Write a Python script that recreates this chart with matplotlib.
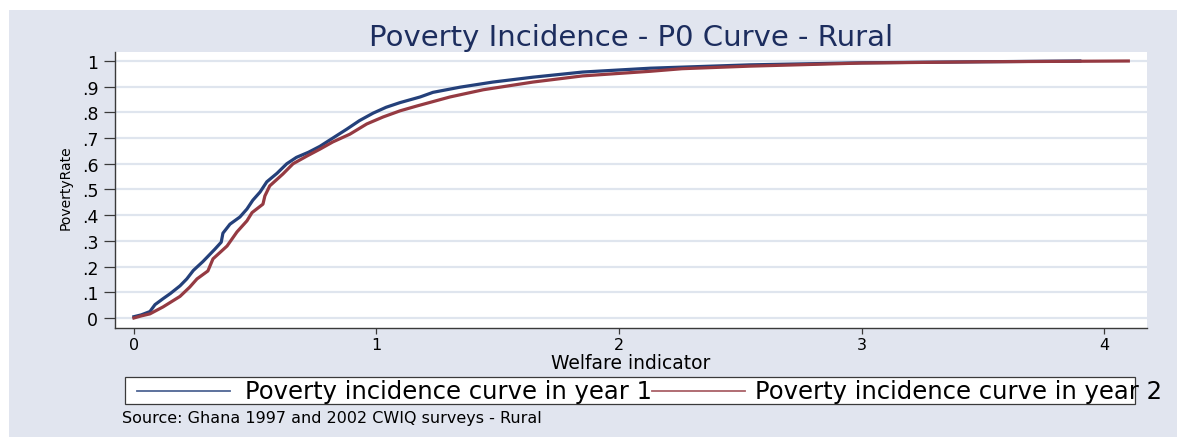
import matplotlib
matplotlib.use("Agg")
import matplotlib.pyplot as plt
from matplotlib.patches import Rectangle
from matplotlib.lines import Line2D

# P0 curve, year 1 (welfare indicator, share of population below it)
welfare_y1 = [0.00, 0.03, 0.066, 0.087, 0.12, 0.15, 0.19, 0.218, 0.245, 0.285,
              0.334, 0.36, 0.367, 0.396, 0.437, 0.466, 0.49, 0.52, 0.548, 0.59,
              0.63, 0.67, 0.72, 0.767, 0.82, 0.878, 0.93, 0.986, 1.04, 1.097,
              1.18, 1.233, 1.344, 1.48, 1.645, 1.85, 2.13, 2.54, 3.0, 3.5, 3.9]
p0_y1 = [0.005, 0.012, 0.025, 0.052, 0.075, 0.095, 0.125, 0.152, 0.185, 0.22,
         0.268, 0.295, 0.33, 0.365, 0.393, 0.424, 0.458, 0.49, 0.53, 0.563,
         0.60, 0.625, 0.645, 0.668, 0.70, 0.735, 0.768, 0.797, 0.82, 0.838,
         0.86, 0.878, 0.898, 0.918, 0.937, 0.957, 0.972, 0.985, 0.993, 0.997, 1.0]

# P0 curve, year 2
welfare_y2 = [0.00, 0.03, 0.066, 0.12, 0.19, 0.23, 0.26, 0.305, 0.326, 0.384,
              0.425, 0.466, 0.487, 0.532, 0.54, 0.56, 0.614, 0.656, 0.713, 0.767,
              0.82, 0.89, 0.96, 1.027, 1.097, 1.167, 1.303, 1.44, 1.645, 1.85,
              2.13, 2.26, 2.54, 3.0, 3.5, 4.1]
p0_y2 = [0.0, 0.008, 0.016, 0.043, 0.084, 0.12, 0.152, 0.183, 0.23, 0.28,
         0.335, 0.378, 0.41, 0.443, 0.475, 0.514, 0.56, 0.60, 0.63, 0.657,
         0.685, 0.715, 0.755, 0.782, 0.806, 0.825, 0.86, 0.888, 0.918, 0.942,
         0.96, 0.97, 0.98, 0.992, 0.997, 1.0]

y_ticks = [0, 0.1, 0.2, 0.3, 0.4, 0.5, 0.6, 0.7, 0.8, 0.9, 1.0]
y_tick_labels = ["0", ".1", ".2", ".3", ".4", ".5", ".6", ".7", ".8", ".9", "1"]
x_ticks = [0, 1, 2, 3, 4]
series_labels = ["Poverty incidence curve in year 1",
                 "Poverty incidence curve in year 2"]

navy = "#24407a"
maroon = "#953a42"
panel = "#e1e5ef"
grid_col = "#dfe5ee"

plt.rcParams["font.family"] = ["DejaVu Sans"]

W, H = 1200, 439
fig = plt.figure(figsize=(W / 100, H / 100), dpi=100, facecolor="white")

def fx(px):
    return px / W

def fy(py):
    return (H - py) / H

# shaded graph region behind everything
fig.patches.append(Rectangle((fx(9), fy(438)), fx(1177) - fx(9), fy(11) - fy(438),
                             transform=fig.transFigure, facecolor=panel,
                             edgecolor="none", zorder=-5))

ax = fig.add_axes([fx(115), fy(329), fx(1147) - fx(115), fy(53) - fy(329)])
ax.set_zorder(2)
ax.set_facecolor("white")
ax.plot(welfare_y1, p0_y1, color=navy, lw=2.3, zorder=3)
ax.plot(welfare_y2, p0_y2, color=maroon, lw=2.3, zorder=3)

ax.set_xlim(-0.078, 4.177)
ax.set_ylim(-0.039, 1.035)
ax.set_yticks(y_ticks)
ax.set_yticklabels(y_tick_labels)
ax.set_xticks(x_ticks)
ax.yaxis.grid(True, color=grid_col, lw=1.6)
ax.set_axisbelow(True)
for s in ["top", "right"]:
    ax.spines[s].set_visible(False)
for s in ["left", "bottom"]:
    ax.spines[s].set_color("#3a3a3a")
    ax.spines[s].set_linewidth(1.0)
ax.tick_params(axis="y", length=8, width=0.9, color="#3a3a3a", pad=4,
               labelsize=12.5)
ax.tick_params(axis="x", length=4.5, width=0.9, color="#3a3a3a", pad=2,
               labelsize=11.5)

ax.set_xlabel("Welfare indicator", fontsize=13.5, labelpad=1)
fig.text(fx(66), fy(188), "PovertyRate", rotation=90, fontsize=10,
         ha="center", va="center")
fig.text(fx(631), fy(38), "Poverty Incidence - P0 Curve - Rural",
         fontsize=21, color="#1c2d5e", ha="center", va="center")

# legend drawn as a single row under the axis title
fig.patches.append(Rectangle((fx(125), fy(405)), fx(1135) - fx(125), fy(378) - fy(405),
                             transform=fig.transFigure, facecolor="white",
                             edgecolor="#3a3a3a", lw=0.9, zorder=1))
fig.lines.append(Line2D([fx(137), fx(230)], [fy(392), fy(392)], color=navy,
                        lw=1.3, alpha=0.8, transform=fig.transFigure, zorder=3))
fig.text(fx(245), fy(392), series_labels[0], fontsize=17.5, ha="left", va="center",
         zorder=2)
fig.lines.append(Line2D([fx(652), fx(745)], [fy(392), fy(392)], color=maroon,
                        lw=1.3, alpha=0.8, transform=fig.transFigure, zorder=3))
fig.text(fx(755), fy(392), series_labels[1], fontsize=17.5, ha="left", va="center",
         zorder=2)

fig.text(fx(122), fy(419), "Source: Ghana 1997 and 2002 CWIQ surveys - Rural",
         fontsize=11.5, ha="left", va="center")

fig.savefig("out.png", dpi=100, facecolor="white")
